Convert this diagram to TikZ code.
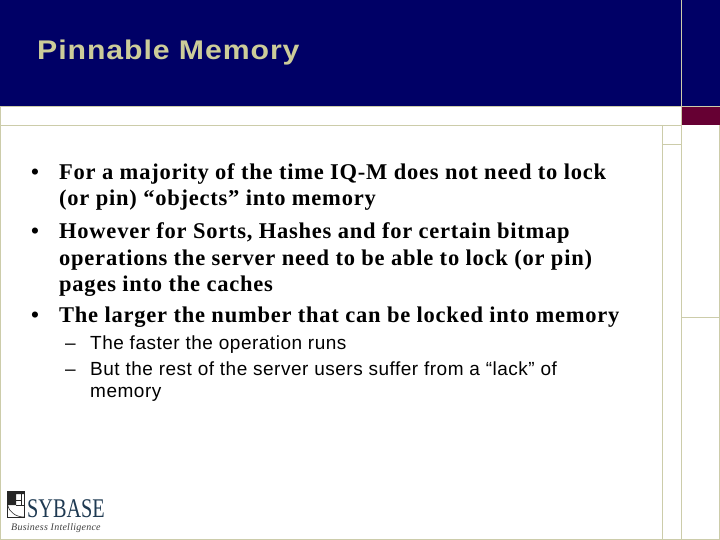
\documentclass[tikz,border=0pt]{standalone}
\usepackage{fontspec}
\setmainfont{Liberation Serif}
\newfontfamily\bodyf[LetterSpace=3.4]{Liberation Serif}
\newfontfamily\subf[LetterSpace=2.7]{Liberation Sans}
\newfontfamily\titlef[LetterSpace=3.4,FakeStretch=1.12]{Liberation Sans}
\newfontfamily\logof[FakeStretch=.75]{Liberation Serif}
\newfontfamily\bif[LetterSpace=2.5]{Liberation Serif}
\definecolor{navy}{HTML}{000066}
\definecolor{rulec}{HTML}{CCCCAA}
\definecolor{wine}{HTML}{660033}
\definecolor{titlec}{HTML}{CCCC99}
\definecolor{logoc}{HTML}{1F3A52}
\tikzset{
 rl/.style={draw=rulec,line width=1.3pt},
 bodyb/.style={anchor=base west,inner sep=0pt,font=\bodyf\fontsize{22.5}{22.5}\selectfont\bfseries,text=black},
 subt/.style={anchor=base west,inner sep=0pt,font=\subf\fontsize{19}{19}\selectfont,text=black},
 iconl/.style={draw=black!85,line width=.6pt}
}
\begin{document}
\begin{tikzpicture}[x=1pt,y=-1pt]
\useasboundingbox (0,0) rectangle (720,540);
\fill[white] (0,0) rectangle (720,540);
\fill[navy] (0,0) rectangle (720,106);
\fill[wine] (682,107) rectangle (720,125);
\draw[rl] (0.5,106) -- (0.5,539.5) -- (720,539.5);
\draw[rl] (0,106.5) -- (720,106.5);
\draw[rl] (0,125.5) -- (682,125.5);
\draw[rl] (662.5,125) -- (662.5,540);
\draw[rl] (681.5,0) -- (681.5,540);
\draw[rl] (719.5,125) -- (719.5,540);
\draw[rl] (662,144.5) -- (681,144.5);
\draw[draw=rulec,line width=1.5pt] (681,317.5) -- (720,317.5);
\node[anchor=base west,inner sep=0pt,text=titlec,font=\titlef\fontsize{27}{27}\selectfont\bfseries] (title) at (37,59.5) {Pinnable Memory};
\node[bodyb] (b1) at (31,180) {•};
\node[bodyb] (l1) at (59,180) {For a majority of the time IQ-M does not need to lock};
\node[bodyb] (l2) at (59,206) {(or pin) “objects” into memory};
\node[bodyb] (b2) at (31,238) {•};
\node[bodyb] (l3) at (59,238) {However for Sorts, Hashes and for certain bitmap};
\node[bodyb] (l4) at (59,265) {operations the server need to be able to lock (or pin)};
\node[bodyb] (l5) at (59,291) {pages into the caches};
\node[bodyb] (b3) at (31,322) {•};
\node[bodyb] (l6) at (59,322) {The larger the number that can be locked into memory};
\node[subt] (d1) at (65,349) {–};
\node[subt] (s1) at (90,349) {The faster the operation runs};
\node[subt] (d2) at (65,375) {–};
\node[subt] (s2) at (90,375) {But the rest of the server users suffer from a “lack” of};
\node[subt] (s3) at (90,397) {memory};
% logo
\draw[iconl] (7.5,491.5) rectangle (24,517);
\fill[black!85] (7,491) -- (24,491) -- (24,494) -- (16,494) -- (16,505) -- (7,505) -- cycle;
\draw[iconl] (7.5,505) .. controls (9,512) and (16,517) .. (24,517);
\draw[iconl] (16,505) -- (24,505) (21,494) -- (21,505) (16,500) -- (21,500);
\node[anchor=base west,inner sep=0pt,text=logoc,font=\logof\fontsize{27}{27}\selectfont] (logo) at (27,517) {SYBASE};
\node[anchor=base west,inner sep=0pt,text=black!75,font=\bif\fontsize{10}{10}\selectfont\itshape] (bi) at (11,530) {Business Intelligence};
\end{tikzpicture}
\end{document}
